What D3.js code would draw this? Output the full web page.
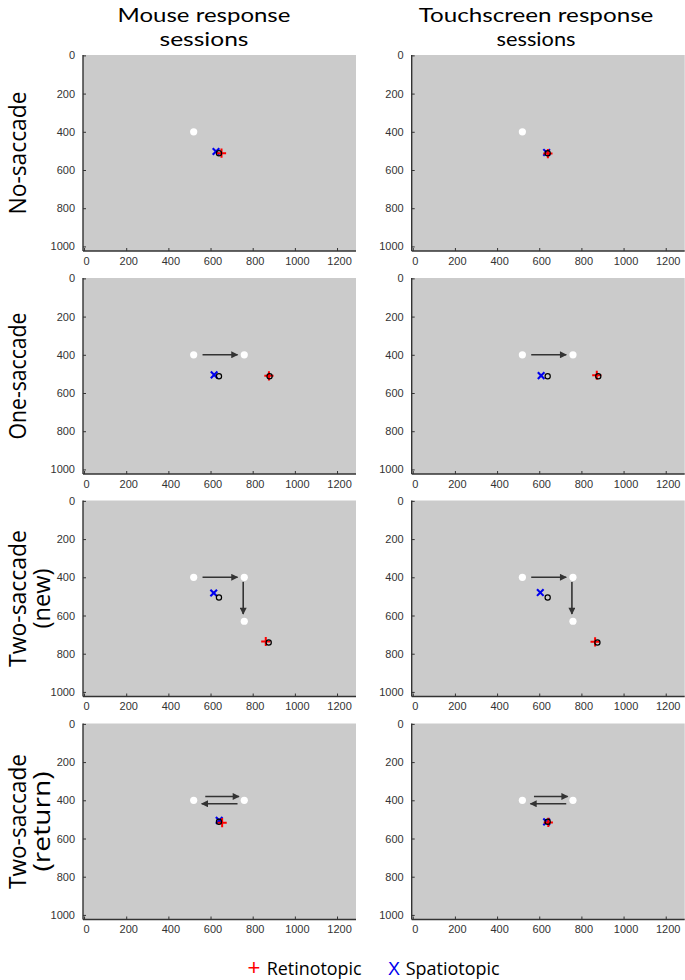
<!DOCTYPE html>
<html><head><meta charset="utf-8">
<script src="https://cdn.jsdelivr.net/npm/d3@7"></script>
<style>html,body{margin:0;padding:0;background:#fff;}svg{display:block;}</style>
</head><body>
<svg id="c" width="685" height="980"></svg>
<script>
// ---------------- DATA ----------------
const sessionTitles = [["Mouse response","sessions"],["Touchscreen response","sessions"]];
const conditionLabels = [["No-saccade"],["One-saccade"],["Two-saccade","(new)"],["Two-saccade","(return)"]];
const xTicks = [0,200,400,600,800,1000,1200];
const yTicks = [0,200,400,600,800,1000];
// fixation / saccade target dots for each condition (screen px)
const fixationDots = [
  [[520,400]],
  [[520,400],[760,400]],
  [[520,400],[760,400],[760,630]],
  [[520,400],[760,400]]
];
// saccade arrows [x1,y1,x2,y2]
const saccadeArrows = [
  [],
  [[562,400,728,400]],
  [[562,400,728,400],[755,424,755,592]],
  [[575,380,735,380],[728,418,558,418]]
];
// probe locations (black open circles)
const probeLocations = [
  [[640,512]],
  [[640,512],[880,512]],
  [[640,506],[876,741]],
  [[640,512]]
];
// mean responses: [mouse, touchscreen][condition]
const retinotopicResp = [
  [[652,512],[877,510],[862,736],[655,517]],
  [[641,514],[873,507],[865,738],[643,516]]
];
const spatiotopicResp = [
  [[626,503],[617,505],[615,482],[641,505]],
  [[635,508],[609,509],[605,480],[635,513]]
];
const legendItems = [["+","Retinotopic","#ff0000"],["X","Spatiotopic","#0000ee"]];

// ---------------- LAYOUT ----------------
const svg = d3.select("#c");
const colX = [83, 411.7];
const panelW = 273, panelH = 196;
const rowY = [55, 278, 500.5, 723.5];
const axisCol = "#333";

const defs = svg.append("defs");
defs.append("marker").attr("id","ah").attr("markerUnits","userSpaceOnUse")
  .attr("viewBox","0 0 10 10").attr("refX",9).attr("refY",5)
  .attr("markerWidth",8).attr("markerHeight",7).attr("orient","auto")
  .append("path").attr("d","M0,0 L10,5 L0,10 Z").attr("fill","#333");

function ctext(g, str, x, y, o) {
  const t = g.append("text").text(str)
    .attr("font-family", o.family || "'Open Sans', sans-serif")
    .attr("font-size", o.size).attr("fill", o.fill || "#000")
    .attr("text-anchor", o.anchor || "middle");
  const w = t.node().getComputedTextLength();
  const sx = o.width ? o.width / w : 1;
  t.attr("transform", `translate(${x},${y})` + (o.rot ? ` rotate(${o.rot})` : "") + ` scale(${sx},1)`);
  return t;
}

// titles
const titleCenters = [204, 536];
const titleWidths = [[173, 89], [235, 79]];
sessionTitles.forEach((lines, c) => {
  lines.forEach((ln, i) => ctext(svg, ln, titleCenters[c], 22 + i * 24,
    {size: 20, width: titleWidths[c][i], family: "Lato, 'Open Sans', sans-serif"}));
});

// row labels
const rowLabelLens = [[123],[127],[137,60],[135,100]];
conditionLabels.forEach((lines, r) => {
  const cy = rowY[r] + panelH / 2;
  lines.forEach((ln, i) => ctext(svg, ln, 26 + i * 24, cy, {size: 24, rot: -90, width: rowLabelLens[r][i]}));
});

// panels
for (let r = 0; r < 4; r++) {
  for (let c = 0; c < 2; c++) {
    const x = d3.scaleLinear().domain([-5, 1290]).range([colX[c], colX[c] + panelW]);
    const y = d3.scaleLinear().domain([-2, 1024]).range([rowY[r], rowY[r] + panelH]);
    const g = svg.append("g");
    g.append("rect").attr("x", x.range()[0]).attr("y", y.range()[0])
      .attr("width", panelW).attr("height", panelH).attr("fill", "#cbcbcb");

    // axes
    const xa = g.append("g").attr("transform", `translate(0,${y.range()[1]})`)
      .call(d3.axisBottom(x).tickValues(xTicks).tickFormat(d3.format("d")).tickSizeInner(-3).tickSizeOuter(0).tickPadding(6));
    const ya = g.append("g").attr("transform", `translate(${x.range()[0]},0)`)
      .call(d3.axisLeft(y).tickValues(yTicks).tickFormat(d3.format("d")).tickSizeInner(-3).tickSizeOuter(0).tickPadding(8));
    [xa, ya].forEach(a => {
      a.select(".domain").attr("stroke", axisCol).attr("stroke-width", 1.4);
      a.selectAll(".tick line").attr("stroke", axisCol).attr("stroke-width", 1);
      a.selectAll(".tick text").attr("font-family", "'Liberation Sans', Arial, sans-serif")
        .attr("font-size", 11).attr("fill", "#333");
    });
    xa.selectAll(".tick text").attr("dx", 2);
    xa.select(".domain").attr("d", `M${x.range()[0]},0H${x.range()[1]}`);
    ya.select(".domain").attr("d", `M0,${y.range()[0]}V${y.range()[1]}`);

    // fixation dots
    g.selectAll(".fx").data(fixationDots[r]).join("circle")
      .attr("cx", d => x(d[0])).attr("cy", d => y(d[1])).attr("r", 3.6).attr("fill", "#fff");
    // arrows
    g.selectAll(".ar").data(saccadeArrows[r]).join("line")
      .attr("x1", d => x(d[0])).attr("y1", d => y(d[1])).attr("x2", d => x(d[2])).attr("y2", d => y(d[3]))
      .attr("stroke", "#333").attr("stroke-width", 1.6).attr("marker-end", "url(#ah)");
    // spatiotopic X
    const s = spatiotopicResp[c][r];
    const sx = x(s[0]), sy = y(s[1]), k = 3.3;
    g.append("path").attr("d", `M${sx-k},${sy-k}L${sx+k},${sy+k}M${sx-k},${sy+k}L${sx+k},${sy-k}`)
      .attr("stroke", "#0000ee").attr("stroke-width", 2.1);
    // retinotopic +
    const rt = retinotopicResp[c][r];
    const rx = x(rt[0]), ry = y(rt[1]), q = 4.6;
    g.append("path").attr("d", `M${rx-q},${ry}H${rx+q}M${rx},${ry-q}V${ry+q}`)
      .attr("stroke", "#ff0000").attr("stroke-width", 2);
    // probe circles
    g.selectAll(".pr").data(probeLocations[r]).join("circle")
      .attr("cx", d => x(d[0])).attr("cy", d => y(d[1])).attr("r", 2.6)
      .attr("fill", "none").attr("stroke", "#000").attr("stroke-width", 1.2);
  }
}

// legend
const lg = svg.append("g");
const lgBase = 974.5;
ctext(lg, legendItems[0][0], 254, lgBase, {size: 22, fill: legendItems[0][2], family: "'Liberation Sans', Arial, sans-serif"});
ctext(lg, legendItems[0][1], 266.7, lgBase, {size: 18.5, anchor: "start", width: 95});
ctext(lg, legendItems[1][0], 394, lgBase, {size: 18, fill: legendItems[1][2], family: "'Liberation Sans', Arial, sans-serif"});
ctext(lg, legendItems[1][1], 405.7, lgBase, {size: 18.5, anchor: "start", width: 94});
</script>
</body></html>
